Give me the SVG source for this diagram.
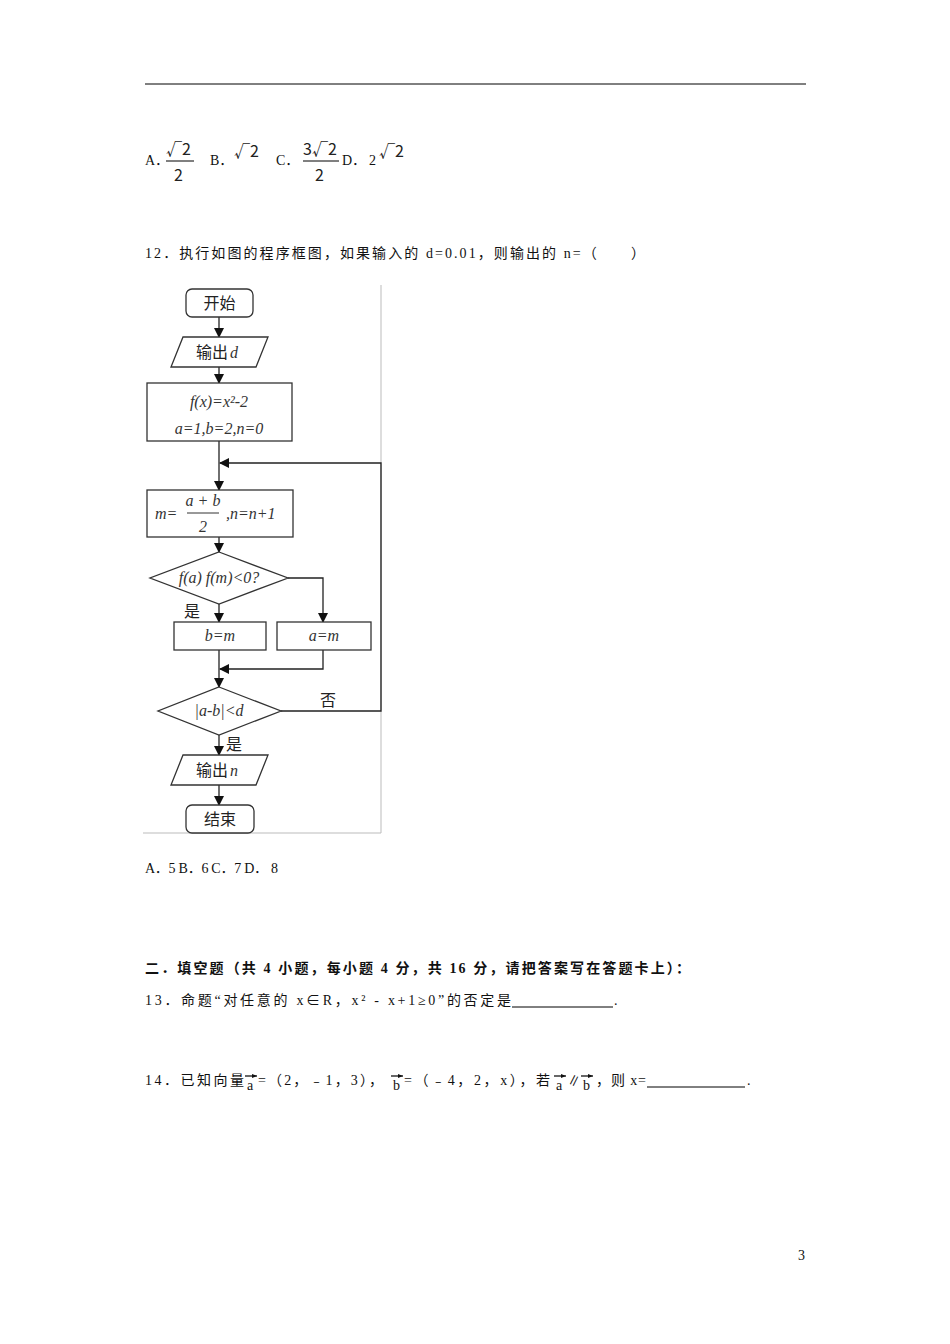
<svg xmlns="http://www.w3.org/2000/svg" width="950" height="1344" viewBox="0 0 950 1344">
<defs>
<marker id="ah" markerWidth="10" markerHeight="10" refX="9" refY="5" orient="auto" markerUnits="userSpaceOnUse"><path d="M0,0 L10,5 L0,10 Z" fill="#111"/></marker>
<marker id="va" markerWidth="5" markerHeight="4" refX="5" refY="2" orient="auto" markerUnits="userSpaceOnUse"><path d="M0,0 L5,2 L0,4 Z" fill="#111"/></marker>
<style>
.t{font-family:"Liberation Serif","Noto Sans CJK SC",serif;font-size:14px;fill:#111}
.c{font-family:"Noto Sans CJK SC",sans-serif;font-size:16px;fill:#222}
.m{font-family:"Liberation Serif",serif;font-style:italic;font-size:16px;fill:#333}
.s{fill:#fff;stroke:#333;stroke-width:1.3}
.l{fill:none;stroke:#222;stroke-width:1.3}
.v{stroke:#000;stroke-width:1.2}
</style>
</defs>
<rect width="950" height="1344" fill="#fff"/>
<line x1="145" y1="84" x2="806" y2="84" stroke="#000" stroke-width="1"/>
<g id="options11">
<text class="t" x="145" y="165">A．</text>
<text class="c" x="166" y="155" font-size="18">√2</text><line x1="166" y1="161" x2="194" y2="161" stroke="#000"/><text class="c" x="174" y="181" font-size="18">2</text>
<text class="t" x="210" y="165">B．</text><text class="c" x="234" y="157" font-size="18">√2</text>
<text class="t" x="276" y="165">C．</text>
<text class="c" x="303" y="155" font-size="18">3√2</text><line x1="303" y1="161" x2="339" y2="161" stroke="#000"/><text class="c" x="315" y="181" font-size="18">2</text>
<text class="t" x="342" y="165">D．</text><text class="t" x="369" y="165">2</text><text class="c" x="379" y="157" font-size="18">√2</text>
</g>
<text class="t" x="145" y="258" textLength="500" lengthAdjust="spacing">12．执行如图的程序框图，如果输入的 d=0.01，则输出的 n=（　　）</text>
<g id="frame"><polyline points="143,833 381,833 381,285" fill="none" stroke="#bbb" stroke-width="1"/></g>
<g id="connectors">
<line class="l" x1="219" y1="317" x2="219" y2="337" marker-end="url(#ah)"/>
<line class="l" x1="219" y1="367" x2="219" y2="383" marker-end="url(#ah)"/>
<line class="l" x1="219" y1="441" x2="219" y2="490" marker-end="url(#ah)"/>
<line class="l" x1="219" y1="537" x2="219" y2="552" marker-end="url(#ah)"/>
<polyline class="l" points="288,578 323,578 323,622" marker-end="url(#ah)"/>
<line class="l" x1="219" y1="604" x2="219" y2="622" marker-end="url(#ah)"/>
<line class="l" x1="219" y1="650" x2="219" y2="687" marker-end="url(#ah)"/>
<polyline class="l" points="323,650 323,669 220,669" marker-end="url(#ah)"/>
<polyline class="l" points="281,711 381,711 381,463 220,463" marker-end="url(#ah)"/>
<line class="l" x1="219" y1="735" x2="219" y2="755" marker-end="url(#ah)"/>
<line class="l" x1="219" y1="785" x2="219" y2="805" marker-end="url(#ah)"/>
<text class="c" x="184" y="617">是</text>
<text class="c" x="320" y="706">否</text>
<text class="c" x="226" y="750">是</text>
</g>
<g id="start"><rect class="s" x="186" y="289" width="67" height="28" rx="6"/><text class="c" x="219.5" y="309" text-anchor="middle">开始</text></g>
<g id="outd"><polygon class="s" points="183,337 268,337 256,367 171,367"/><text class="c" x="196" y="358">输出</text><text class="m" x="230" y="358">d</text></g>
<g id="init"><rect class="s" x="147" y="383" width="145" height="58"/><text class="m" x="219" y="407" text-anchor="middle">f(x)=x²-2</text><text class="m" x="219" y="434" text-anchor="middle">a=1,b=2,n=0</text></g>
<g id="calc"><rect class="s" x="147" y="490" width="146" height="47"/><text class="m" x="155" y="519">m=</text><text class="m" x="203" y="506" text-anchor="middle" font-size="14">a + b</text><line x1="187" y1="513" x2="219" y2="513" stroke="#333"/><text class="m" x="203" y="532" text-anchor="middle" font-size="15" font-style="normal">2</text><text class="m" x="226" y="519">,n=n+1</text></g>
<g id="cond1"><polygon class="s" points="219,552 288,578 219,604 150,578"/><text class="m" x="219" y="583" text-anchor="middle" font-size="15">f(a) f(m)&lt;0?</text></g>
<g id="bm"><rect class="s" x="174" y="622" width="92" height="28"/><text class="m" x="220" y="641" text-anchor="middle">b=m</text></g>
<g id="am"><rect class="s" x="277" y="622" width="94" height="28"/><text class="m" x="324" y="641" text-anchor="middle">a=m</text></g>
<g id="cond2"><polygon class="s" points="219,687 281,711 219,735 158,711"/><text class="m" x="219" y="716" text-anchor="middle">|a-b|&lt;d</text></g>
<g id="outn"><polygon class="s" points="183,755 268,755 256,785 171,785"/><text class="c" x="196" y="776">输出</text><text class="m" x="230" y="776">n</text></g>
<g id="end"><rect class="s" x="186" y="805" width="68" height="28" rx="6"/><text class="c" x="220" y="825" text-anchor="middle">结束</text></g>
<text class="t" x="145" y="873" textLength="133" lengthAdjust="spacing">A．5 B．6 C．7 D． 8</text>
<text class="t" x="145" y="973" font-weight="bold" textLength="545" lengthAdjust="spacing">二．填空题（共 4 小题，每小题 4 分，共 16 分，请把答案写在答题卡上）：</text>
<text class="t" x="145" y="1005" textLength="366" lengthAdjust="spacing">13．命题“对任意的 x∈R，x² - x+1≥0”的否定是</text>
<line x1="512" y1="1007" x2="613" y2="1007" stroke="#000"/><text class="t" x="614" y="1005">.</text>
<g id="q14">
<text class="t" x="145" y="1085" textLength="99" lengthAdjust="spacing">14．已知向量</text>
<text class="t" x="247" y="1090">a</text><line class="v" x1="245" y1="1076" x2="257" y2="1076" marker-end="url(#va)"/>
<text class="t" x="258" y="1085" textLength="125" lengthAdjust="spacing">=（2，﹣1，3），</text>
<text class="t" x="393" y="1090">b</text><line class="v" x1="391" y1="1076" x2="403" y2="1076" marker-end="url(#va)"/>
<text class="t" x="404" y="1085" textLength="146" lengthAdjust="spacing">=（﹣4，2，x），若</text>
<text class="t" x="556" y="1090">a</text><line class="v" x1="554" y1="1076" x2="566" y2="1076" marker-end="url(#va)"/>
<text class="t" x="567" y="1085">∥</text>
<text class="t" x="583" y="1090">b</text><line class="v" x1="581" y1="1076" x2="593" y2="1076" marker-end="url(#va)"/>
<text class="t" x="596" y="1085" textLength="50" lengthAdjust="spacing">，则 x=</text>
<line x1="647" y1="1087" x2="745" y2="1087" stroke="#000"/><text class="t" x="747" y="1085">.</text>
</g>
<text class="t" x="798" y="1260" font-size="12">3</text>
</svg>
